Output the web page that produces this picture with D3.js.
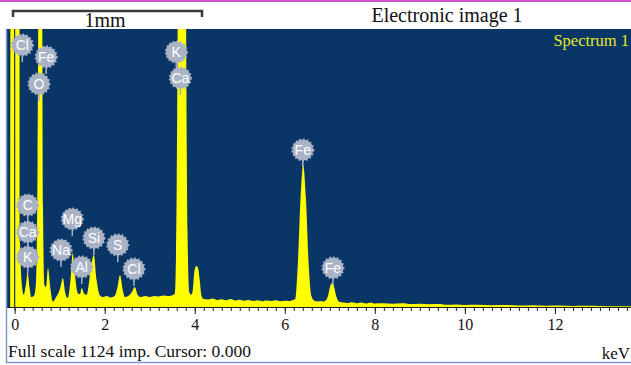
<!DOCTYPE html>
<html>
<head>
<meta charset="utf-8">
<script src="https://cdn.jsdelivr.net/npm/d3@7"></script>
<style>
  body { margin: 0; background: #fff; }
  svg { display: block; }
  .serif { font-family: "Liberation Serif", "DejaVu Serif", serif; }
</style>
</head>
<body>
<script>
// spectrum: energy (keV) and counts
var energy = [
  -0.10, -0.08, 0.09, 0.12, 0.16, 0.20, 0.25, 0.29, 0.33, 0.37, 0.43, 0.47,
  0.51, 0.54, 0.56, 0.58, 0.60, 0.63, 0.66, 0.70, 0.74, 0.79, 0.85, 0.92, 0.99, 1.03,
  1.07, 1.12, 1.18, 1.24, 1.29, 1.34, 1.40, 1.45, 1.49, 1.54, 1.60, 1.66,
  1.71, 1.76, 1.82, 1.89, 1.96, 2.05, 2.13, 2.22, 2.29, 2.34, 2.40, 2.45,
  2.52, 2.60, 2.67, 2.73, 2.80, 2.90, 3.00, 3.10, 3.20, 3.30, 3.40, 3.50,
  3.56, 3.60, 3.63, 3.66, 3.77, 3.80, 3.84, 3.88, 3.92, 3.95, 3.99, 4.03, 4.07,
  4.11, 4.15, 4.20, 4.30, 4.40, 4.50, 4.60, 4.70, 4.80, 4.90, 5.00, 5.10,
  5.20, 5.30, 5.40, 5.50, 5.60, 5.70, 5.80, 5.90, 6.00, 6.10, 6.18, 6.23,
  6.29, 6.35, 6.41, 6.47, 6.53, 6.59, 6.65, 6.72, 6.80, 6.86, 6.91, 6.96,
  7.01, 7.05, 7.09, 7.14, 7.20, 7.30, 7.40, 7.50, 7.60, 7.70, 7.80, 7.90,
  8.00, 8.20, 8.40, 8.60, 8.80, 9.00, 9.20, 9.40, 9.60, 9.80, 10.0, 10.3,
  10.6, 10.9, 11.2, 11.5, 11.8, 12.1, 12.4, 12.7, 13.0, 13.3, 13.7
];
var counts = [
  0, 3000, 3000, 260, 90, 50, 90, 137, 80, 40, 45, 90,
  600, 2000, 3000, 3000, 2000, 400, 90, 80, 158, 80, 22, 40, 65, 90,
  117, 60, 36, 110, 218, 130, 57, 52, 77, 55, 50, 110,
  180, 210, 110, 48, 40, 44, 38, 44, 85, 129, 70, 40,
  44, 60, 81, 50, 40, 44, 40, 44, 42, 46, 44, 48,
  55, 500, 1500, 3000, 3000, 1500, 300, 60, 50, 60, 140, 166, 160,
  110, 45, 32, 30, 34, 28, 31, 27, 32, 26, 29, 25,
  28, 24, 27, 23, 26, 24, 27, 23, 25, 24, 28, 32,
  175, 440, 574, 440, 175, 45, 26, 22, 24, 22, 26, 45,
  85, 97, 85, 45, 22, 18, 16, 19, 15, 18, 14, 17,
  14, 15, 13, 15, 12, 13, 11, 12, 9, 10, 8, 9,
  7, 8, 6, 7, 5, 6, 4, 5, 4, 3, 3
];

var tickLabels = [0, 2, 4, 6, 8, 10, 12];

// element markers: name, energy (keV) and height (counts) of the badge
var markNames  = ["Cl", "Fe", "O", "K", "Ca", "C", "Ca", "K", "Na", "Mg", "Al", "Si", "S", "Cl", "Fe", "Fe"];
var markEnergy = [0.17, 0.70, 0.54, 3.59, 3.68, 0.29, 0.29, 0.29, 1.03, 1.28, 1.49, 1.76, 2.29, 2.65, 6.40, 7.07];
var markCounts = [1059, 1011, 902, 1031, 926, 412, 303, 202, 230, 356, 162, 279, 251, 154, 635, 158];

var W = 631, H = 365;
var plot = {left: 7, right: 631, top: 29, bottom: 307};

var x = d3.scaleLinear().domain([-0.17, 13.69]).range([plot.left, plot.right]);
var y = d3.scaleLinear().domain([0, 1124]).range([plot.bottom, plot.top]);

var svg = d3.select('body').append('svg')
    .attr('width', W)
    .attr('height', H);

// magenta strip at the top
svg.append('rect').attr('x', 0).attr('y', 0).attr('width', W).attr('height', 2)
    .attr('fill', '#cc55cc');

// scale bar
svg.append('path')
    .attr('d', 'M13,17 L13,11 L202,11 L202,17')
    .attr('fill', 'none').attr('stroke', '#3a3a3a').attr('stroke-width', 2.5);
svg.append('text').attr('class', 'serif')
    .attr('x', 105).attr('y', 27).attr('text-anchor', 'middle')
    .attr('font-size', '20px').attr('fill', '#111')
    .text('1mm');
svg.append('text').attr('class', 'serif')
    .attr('x', 447).attr('y', 22).attr('text-anchor', 'middle')
    .attr('font-size', '20px').attr('fill', '#111')
    .text('Electronic image 1');

// plot background
svg.append('rect')
    .attr('x', plot.left).attr('y', plot.top)
    .attr('width', plot.right - plot.left).attr('height', plot.bottom - plot.top)
    .attr('fill', '#093567');

svg.append('clipPath').attr('id', 'clip')
  .append('rect')
    .attr('x', plot.left).attr('y', plot.top)
    .attr('width', plot.right - plot.left).attr('height', plot.bottom - plot.top);

var data = energy.map(function(e, i) { return {e: e, c: counts[i]}; });

var area = d3.area()
    .x(function(d) { return x(d.e); })
    .y0(y(0))
    .y1(function(d) { return y(d.c); })
    .curve(d3.curveMonotoneX);

svg.append('path')
    .datum(data)
    .attr('clip-path', 'url(#clip)')
    .attr('d', area)
    .attr('fill', '#ffff00');

// cursor at 0.000
svg.append('line')
    .attr('x1', x(0)).attr('x2', x(0))
    .attr('y1', plot.top).attr('y2', plot.bottom)
    .attr('stroke', '#1b2f4a').attr('stroke-width', 1.2);

svg.append('text').attr('class', 'serif')
    .attr('x', 629).attr('y', 46).attr('text-anchor', 'end')
    .attr('font-size', '16.5px').attr('fill', '#e6e62a')
    .text('Spectrum 1');

// element badges
var marks = svg.append('g').selectAll('g')
    .data(markNames.map(function(n, i) { return {n: n, e: markEnergy[i], c: markCounts[i]}; }))
    .enter().append('g')
    .attr('transform', function(d) { return 'translate(' + x(d.e) + ',' + y(d.c) + ')'; });

marks.append('line')
    .attr('x1', 0).attr('x2', 0).attr('y1', 9).attr('y2', 17)
    .attr('stroke', '#a9b3c5').attr('stroke-width', 1.5);

marks.append('circle')
    .attr('r', 10.5)
    .attr('fill', '#a9b3c5')
    .attr('stroke', '#a9b3c5')
    .attr('stroke-width', 2)
    .attr('stroke-dasharray', '1.6,2.2');

marks.append('text')
    .attr('text-anchor', 'middle')
    .attr('dy', '0.36em')
    .attr('font-family', '"Liberation Sans", Arial, sans-serif')
    .attr('font-size', '14px')
    .attr('fill', '#ffffff')
    .text(function(d) { return d.n; });

// axis
var minorTicks = d3.range(0, 69).map(function(i) { return i * 0.2; });

var minorAxis = d3.axisBottom(x).tickValues(minorTicks).tickSize(4).tickFormat('');
var majorAxis = d3.axisBottom(x).tickValues(tickLabels).tickSize(7).tickPadding(5)
    .tickFormat(d3.format('d'));

var gMinor = svg.append('g')
    .attr('transform', 'translate(0,' + plot.bottom + ')')
    .call(minorAxis);
gMinor.select('.domain').attr('stroke', '#222').attr('d', 'M' + plot.left + ',0.5H' + plot.right);
gMinor.selectAll('.tick line').attr('stroke', '#222');

var gMajor = svg.append('g')
    .attr('transform', 'translate(0,' + plot.bottom + ')')
    .call(majorAxis);
gMajor.select('.domain').remove();
gMajor.selectAll('.tick line').attr('stroke', '#222');
gMajor.selectAll('.tick text')
    .attr('class', 'serif')
    .attr('font-size', '16px')
    .attr('fill', '#111');

svg.append('text').attr('class', 'serif')
    .attr('x', 8).attr('y', 357)
    .attr('font-size', '17.5px').attr('fill', '#111')
    .text('Full scale 1124 imp. Cursor: 0.000');
svg.append('text').attr('class', 'serif')
    .attr('x', 630).attr('y', 359).attr('text-anchor', 'end')
    .attr('font-size', '17px').attr('fill', '#111')
    .text('keV');

// panel frame
svg.append('path')
    .attr('d', 'M6.5,' + plot.top + ' V362.5 H' + W)
    .attr('fill', 'none').attr('stroke', '#7d9bc9').attr('stroke-width', 1.5);
</script>
</body>
</html>
